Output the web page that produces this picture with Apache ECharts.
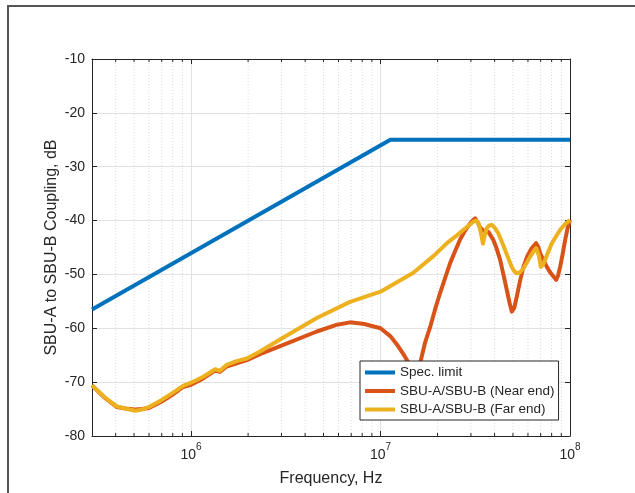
<!DOCTYPE html>
<html><head><meta charset="utf-8">
<script src="https://cdn.jsdelivr.net/npm/echarts@6/dist/echarts.min.js"></script>
<style>html,body{margin:0;padding:0;background:#fff}#c{width:635px;height:493px}</style>
</head><body><div id="c"></div>
<script>
// ---- data ----
const specFreq = [3e5, 1.127e7, 1e8];
const specDb = [-56.5, -25, -25];

const nearFreq = [3.0e5, 3.5e5, 4.05e5, 4.5e5, 5.06e5, 5.5e5, 6.0e5, 7.0e5, 8.0e5, 9.07e5,
  1.0e6, 1.16e6, 1.34e6, 1.42e6, 1.54e6, 1.74e6, 1.97e6, 2.31e6, 3.07e6, 4.61e6,
  5.8e6, 6.9e6, 8.2e6, 1.0e7, 1.13e7, 1.22e7, 1.32e7, 1.40e7, 1.47e7, 1.52e7,
  1.57e7, 1.62e7, 1.72e7, 1.83e7, 1.94e7, 2.06e7, 2.2e7, 2.33e7, 2.48e7, 2.63e7, 2.8e7, 2.97e7, 3.08e7, 3.16e7, 3.25e7, 3.36e7, 3.5e7,
  3.71e7, 3.94e7, 4.1e7, 4.28e7, 4.45e7, 4.64e7, 4.8e7, 4.93e7, 5.08e7, 5.24e7, 5.45e7, 5.68e7, 5.95e7, 6.29e7, 6.63e7, 6.8e7, 6.96e7,
  7.25e7, 7.55e7, 7.85e7, 8.18e7, 8.45e7, 8.65e7, 8.87e7, 9.15e7, 9.43e7, 9.7e7, 1e8];
const nearDb = [-70.6, -72.9, -74.6, -74.9, -75.1, -75.0, -74.8, -73.6, -72.3, -70.9,
  -70.5, -69.3, -67.8, -68.1, -67.1, -66.5, -65.9, -64.8, -63.1, -60.6,
  -59.4, -58.9, -59.2, -60.0, -61.5, -63.0, -64.8, -66.3, -69.5, -76,
  -70.5, -66.4, -62.6, -59.7, -56.5, -53.5, -50.5, -47.9, -45.6, -43.5, -41.8, -40.5, -39.9, -39.6, -40.3, -41.3, -41.9,
  -42.1, -43.6, -45.2, -47.3, -50.0, -52.9, -55.3, -56.9, -56.2, -54.1, -51.2, -48.6, -46.6, -45.1, -44.2, -44.9, -46.1,
  -47.4, -48.6, -49.6, -50.4, -51.0, -50.2, -48.6, -46.2, -43.6, -41.5, -39.9];

const farFreq = [3.0e5, 3.5e5, 4.05e5, 4.5e5, 5.06e5, 5.5e5, 6.0e5, 7.0e5, 8.0e5, 9.07e5,
  1.0e6, 1.16e6, 1.34e6, 1.42e6, 1.54e6, 1.74e6, 1.97e6, 2.31e6, 3.07e6, 4.61e6,
  6.9e6, 1.0e7, 1.49e7, 1.9e7, 2.24e7, 2.5e7, 2.74e7, 2.95e7, 3.09e7, 3.2e7, 3.3e7, 3.38e7, 3.47e7,
  3.56e7, 3.64e7, 3.75e7, 3.87e7, 4.02e7, 4.19e7, 4.36e7, 4.55e7, 4.75e7, 4.93e7, 5.08e7, 5.24e7, 5.45e7, 5.68e7, 5.9e7, 6.16e7, 6.4e7, 6.63e7,
  6.85e7, 7.02e7, 7.2e7, 7.39e7, 7.7e7, 8.02e7, 8.45e7, 8.87e7, 9.4e7, 1e8];
const farDb = [-70.6, -72.8, -74.5, -74.9, -75.3, -75.1, -74.6, -73.3, -72.0, -70.7,
  -70.1, -69.0, -67.6, -67.9, -66.8, -66.1, -65.6, -64.3, -61.7, -58.1,
  -55.1, -53.2, -49.7, -46.6, -44.2, -42.9, -41.7, -40.8, -40.2, -40.0, -40.6, -42.2, -44.3,
  -42.5, -41.4, -40.9, -40.8, -41.4, -42.4, -43.9, -45.5, -47.2, -48.6, -49.4, -49.8, -49.6, -48.9, -47.9, -46.7, -45.8, -45.1,
  -46.5, -48.6, -48.2, -47.3, -45.7, -44.2, -42.9, -41.7, -40.7, -39.9];

const seriesNames = ['Spec. limit', 'SBU-A/SBU-B (Near end)', 'SBU-A/SBU-B (Far end)'];
const yMin = -80, yMax = -10, yStep = 10;
const xMin = 3e5, xMax = 1e8;
const minorMult = [2, 3, 4, 5, 6, 7, 8, 9];
const decades = [1e5, 1e6, 1e7];

// ---- build ----
const minorFreq = [];
decades.forEach(d => minorMult.forEach(m => { const f = m * d; if (f > xMin * 1.0001 && f < xMax) minorFreq.push(f); }));
const pairs = (f, d) => f.map((v, i) => [v, d[i]]);

const AX = '#262626';
const FONT = '"Liberation Sans", Arial, Helvetica, sans-serif';
const chart = echarts.init(document.getElementById('c'), null, { renderer: 'canvas' });

const isPow10 = v => { const e = Math.round(Math.log10(v)); return Math.abs(Math.log10(v) - e) < 1e-6 ? e : null; };

const option = {
  animation: false,
  backgroundColor: '#fff',
  textStyle: { fontFamily: FONT },
  graphic: [
    { type: 'line', shape: { x1: 7, y1: 6, x2: 635, y2: 6 }, style: { stroke: '#555', lineWidth: 2 }, z: 100 },
    { type: 'line', shape: { x1: 8, y1: 6, x2: 8, y2: 493 }, style: { stroke: '#555', lineWidth: 2 }, z: 100 }
  ],
  grid: { left: 92, right: 65, top: 59, bottom: 57 },
  xAxis: [{
    type: 'log', logBase: 10, min: xMin, max: xMax, position: 'bottom',
    axisLine: { show: true, lineStyle: { color: AX, width: 1 } },
    axisTick: { show: true, inside: true, length: 5, lineStyle: { color: AX } },
    minorTick: { show: false },
    axisLabel: {
      margin: 6, color: AX,
      formatter: v => { const e = isPow10(v); return e === null ? '' : '{b|10}{s|' + e + '}'; },
      rich: {
        b: { fontSize: 14, color: AX, lineHeight: 20, verticalAlign: 'bottom', fontFamily: FONT },
        s: { fontSize: 10, color: AX, lineHeight: 20, verticalAlign: 'top', fontFamily: FONT }
      }
    },
    splitLine: { show: true, lineStyle: { color: '#e2e2e2', width: 1 } },
    name: 'Frequency, Hz', nameLocation: 'middle', nameGap: 35, nameMoveOverlap: false,
    nameTextStyle: { fontSize: 16, color: AX, fontFamily: FONT }
  }, {
    type: 'log', logBase: 10, min: xMin, max: xMax, position: 'top',
    axisLine: { show: true, lineStyle: { color: AX, width: 1 } },
    axisTick: { show: true, inside: true, length: 5, lineStyle: { color: AX } },
    axisLabel: { show: false }, splitLine: { show: false }
  }],
  yAxis: [{
    type: 'value', min: yMin, max: yMax, interval: yStep, position: 'left',
    axisLine: { show: true, lineStyle: { color: AX, width: 1 } },
    axisTick: { show: true, inside: true, length: 5, lineStyle: { color: AX } },
    axisLabel: { margin: 7, fontSize: 14, color: AX, fontFamily: FONT },
    splitLine: { show: true, lineStyle: { color: '#e2e2e2', width: 1 } },
    name: 'SBU-A to SBU-B Coupling, dB', nameLocation: 'middle', nameGap: 32, nameMoveOverlap: false,
    nameTextStyle: { fontSize: 16, color: AX, fontFamily: FONT }
  }, {
    type: 'value', min: yMin, max: yMax, interval: yStep, position: 'right',
    axisLine: { show: true, lineStyle: { color: AX, width: 1 } },
    axisTick: { show: true, inside: true, length: 5, lineStyle: { color: AX } },
    axisLabel: { show: false }, splitLine: { show: false }
  }],
  legend: {
    orient: 'vertical', left: 360, top: 361,
    itemWidth: 30, itemHeight: 4, itemGap: 3.5,
    padding: [4, 4, 3, 5],
    backgroundColor: '#fff', borderColor: AX, borderWidth: 1, borderRadius: 0,
    textStyle: { fontSize: 13.5, color: AX, lineHeight: 15, fontFamily: FONT },
    data: seriesNames.map(n => ({ name: n, icon: 'rect' })),
    z: 10
  },
  series: [{
    type: 'custom', name: 'minor', silent: true, z: 1,
    data: minorFreq.map(f => [f, yMin]),
    encode: { x: 0, y: 1 },
    renderItem: (params, api) => {
      const f = api.value(0);
      const pb = api.coord([f, yMin]);
      const pt = api.coord([f, yMax]);
      return {
        type: 'group', children: [
          { type: 'line', shape: { x1: pb[0], y1: pb[1], x2: pt[0], y2: pt[1] }, style: { stroke: '#d9d9d9', lineWidth: 1, lineDash: [1, 2] } },
          { type: 'line', shape: { x1: pb[0], y1: pb[1], x2: pb[0], y2: pb[1] - 3 }, style: { stroke: AX, lineWidth: 1 } },
          { type: 'line', shape: { x1: pt[0], y1: pt[1], x2: pt[0], y2: pt[1] + 3 }, style: { stroke: AX, lineWidth: 1 } }
        ]
      };
    }
  }, {
    type: 'line', name: seriesNames[0], data: pairs(specFreq, specDb),
    showSymbol: false, color: '#0072BD', lineStyle: { width: 4, color: '#0072BD' }, z: 3
  }, {
    type: 'line', name: seriesNames[1], data: pairs(nearFreq, nearDb),
    showSymbol: false, color: '#D95319', lineStyle: { width: 4, color: '#D95319', join: 'round' }, z: 4
  }, {
    type: 'line', name: seriesNames[2], data: pairs(farFreq, farDb),
    showSymbol: false, color: '#EDB120', lineStyle: { width: 4, color: '#EDB120', join: 'round' }, z: 5
  }]
};
chart.setOption(option);
</script>
</body></html>
